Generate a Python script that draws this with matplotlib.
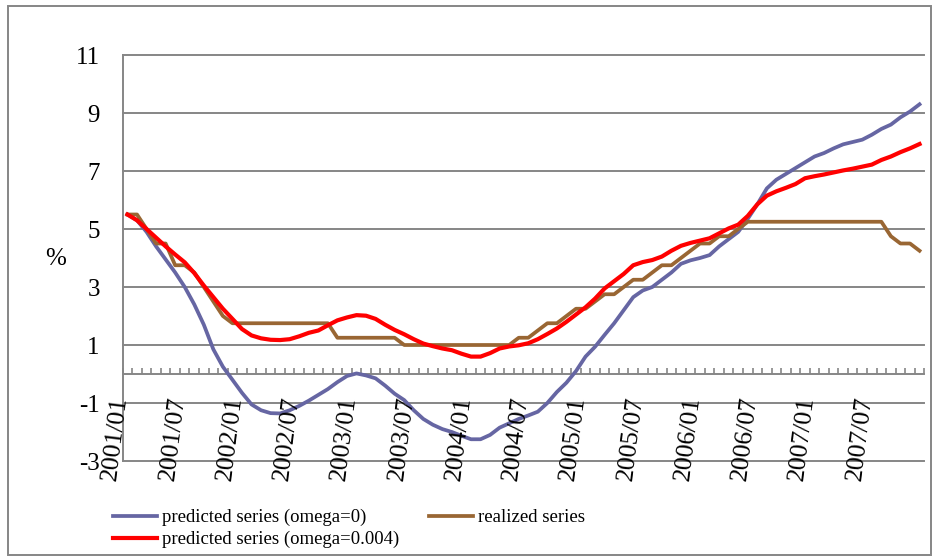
import matplotlib
matplotlib.use("Agg")
import matplotlib.pyplot as plt
from matplotlib.patches import Rectangle
import numpy as np

plt.rcParams['font.family'] = ['Liberation Serif', 'DejaVu Serif']

# ---------------- data ----------------
months = [f"{y}/{m:02d}" for y in range(2001, 2008) for m in range(1, 13)]
tick_labels = ["2001/01", "2001/07", "2002/01", "2002/07", "2003/01", "2003/07",
               "2004/01", "2004/07", "2005/01", "2005/07", "2006/01", "2006/07",
               "2007/01", "2007/07"]

pred_omega0 = [
    5.5, 5.3, 4.9, 4.4, 3.95, 3.5, 3.0, 2.4, 1.7, 0.85, 0.25, -0.2,
    -0.65, -1.05, -1.25, -1.35, -1.36, -1.25, -1.1, -0.92, -0.72, -0.52, -0.28, -0.07,
    0.02, -0.05, -0.15, -0.4, -0.68, -0.9, -1.25, -1.55, -1.75, -1.9, -2.0, -2.13,
    -2.25, -2.25, -2.1, -1.85, -1.7, -1.55, -1.43, -1.3, -1.0, -0.62, -0.3, 0.1,
    0.6, 0.94, 1.35, 1.75, 2.2, 2.65, 2.88, 3.0, 3.25, 3.5, 3.8, 3.92,
    4.0, 4.1, 4.4, 4.65, 4.9, 5.35, 5.85, 6.4, 6.7, 6.9, 7.1, 7.3,
    7.5, 7.62, 7.78, 7.92, 8.0, 8.08, 8.25, 8.45, 8.6, 8.85, 9.05, 9.3,
]

realized = [
    5.5, 5.5, 5.0, 4.5, 4.5, 3.75, 3.75, 3.5, 3.0, 2.5, 2.0, 1.75,
    1.75, 1.75, 1.75, 1.75, 1.75, 1.75, 1.75, 1.75, 1.75, 1.75, 1.25, 1.25,
    1.25, 1.25, 1.25, 1.25, 1.25, 1.0, 1.0, 1.0, 1.0, 1.0, 1.0, 1.0,
    1.0, 1.0, 1.0, 1.0, 1.0, 1.25, 1.25, 1.5, 1.75, 1.75, 2.0, 2.25,
    2.25, 2.5, 2.75, 2.75, 3.0, 3.25, 3.25, 3.5, 3.75, 3.75, 4.0, 4.25,
    4.5, 4.5, 4.75, 4.75, 5.0, 5.25, 5.25, 5.25, 5.25, 5.25, 5.25, 5.25,
    5.25, 5.25, 5.25, 5.25, 5.25, 5.25, 5.25, 5.25, 4.75, 4.5, 4.5, 4.25,
]

pred_omega004 = [
    5.5, 5.3, 5.0, 4.7, 4.4, 4.12, 3.85, 3.48, 3.05, 2.65, 2.25, 1.9,
    1.55, 1.33, 1.23, 1.18, 1.17, 1.2, 1.3, 1.42, 1.5, 1.68, 1.85, 1.95,
    2.03, 2.01, 1.9, 1.7, 1.52, 1.37, 1.2, 1.05, 0.96, 0.88, 0.82, 0.7,
    0.6, 0.6, 0.72, 0.88, 0.95, 0.99, 1.06, 1.2, 1.38, 1.57, 1.8, 2.05,
    2.3, 2.6, 2.95, 3.2, 3.45, 3.75, 3.86, 3.93, 4.05, 4.25, 4.42, 4.52,
    4.6, 4.68, 4.85, 5.02, 5.15, 5.45, 5.85, 6.15, 6.3, 6.42, 6.55, 6.75,
    6.82, 6.88, 6.95, 7.02, 7.08, 7.15, 7.22, 7.38, 7.5, 7.65, 7.78, 7.93,
]

y_ticks = [-3, -1, 1, 3, 5, 7, 9, 11]

# ---------------- figure ----------------
W, H = 937, 560
fig = plt.figure(figsize=(W / 100, H / 100), dpi=100)
left_px, right_px, top_px, bottom_px = 122.7, 924.3, 55, 461
ax = fig.add_axes([left_px / W, 1 - bottom_px / H,
                   (right_px - left_px) / W, (bottom_px - top_px) / H])

x = np.arange(len(months))
grid_col = '#868686'

ax.set_xlim(-0.5, len(months) - 0.5)
ax.set_ylim(-3, 11)
ax.set_yticks(y_ticks)
ax.set_yticklabels([str(v) for v in y_ticks], fontsize=18)
for v in y_ticks:
    ax.axhline(v, color=grid_col, lw=1.4, zorder=1, clip_on=False)

l0, = ax.plot(x, pred_omega0, color='#6666A3', lw=2.7, zorder=3,
              label='predicted series (omega=0)')
l1, = ax.plot(x, realized, color='#996633', lw=2.7, zorder=4,
              label='realized series')
l2, = ax.plot(x, pred_omega004, color='#FF0000', lw=3.0, zorder=5,
              label='predicted series (omega=0.004)')

for s in ['top', 'right']:
    ax.spines[s].set_visible(False)
ax.spines['left'].set_color(grid_col)
ax.spines['left'].set_linewidth(1.4)
ax.spines['bottom'].set_position(('data', 0))
ax.spines['bottom'].set_color(grid_col)
ax.spines['bottom'].set_linewidth(1.4)
ax.spines['bottom'].set_zorder(2)

ax.set_xticks(np.arange(-0.5, len(months), 1.0))
ax.tick_params(axis='x', direction='in', length=4.5, width=1.2, color=grid_col,
               labelbottom=False)
ax.tick_params(axis='y', length=0, pad=16.5)

for lab in tick_labels:
    i = months.index(lab)
    ax.annotate(lab, xy=(i, 0), xytext=(4, -21), textcoords='offset pixels',
                rotation=83, ha='right', va='top', fontsize=18.5,
                annotation_clip=False)

fig.text(56 / W, 1 - 259 / H, '%', ha='center', va='center', fontsize=18)

fig.legend([l0, l2, l1],
           [l0.get_label(), l2.get_label(), l1.get_label()],
           ncol=2, loc='upper left', bbox_to_anchor=(113 / W, 1 - 509 / H),
           frameon=False, fontsize=13.5, handlelength=2.35, handletextpad=0.27,
           columnspacing=1.6, borderpad=0, borderaxespad=0, labelspacing=0.26)

fig.patches.append(Rectangle((8 / W, 1 - 555 / H), (931 - 8) / W, (555 - 6) / H,
                             transform=fig.transFigure, fill=False,
                             edgecolor=grid_col, lw=1.4))

fig.savefig('out.png', dpi=100)
